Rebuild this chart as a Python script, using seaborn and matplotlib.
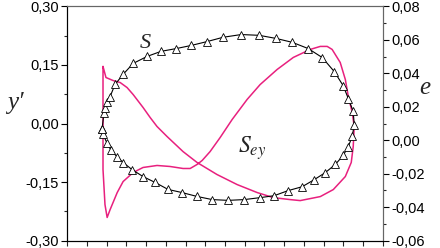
import matplotlib
matplotlib.use("Agg")
import matplotlib.pyplot as plt
import seaborn as sns
import pandas as pd
from matplotlib.ticker import MultipleLocator, FuncFormatter

# S loop (left axis, y')
s_x = [1.76, 1.86, 1.91, 2.02, 2.17, 2.42, 2.83, 3.34, 4.05, 4.76, 5.52, 6.28, 7.09,
       7.90, 8.82, 9.73, 10.59, 11.41, 12.22, 12.93, 13.54, 13.99, 14.25, 14.50, 14.55,
       14.45, 14.25, 13.99, 13.59, 13.08, 12.52, 11.91, 11.20, 10.49, 9.78, 8.97, 8.16,
       7.35, 6.58, 5.82, 5.11, 4.45, 3.84, 3.28, 2.83, 2.52, 2.22, 2.02, 1.81, 1.76]
s_y = [-0.015, 0.028, 0.041, 0.054, 0.069, 0.100, 0.126, 0.154, 0.172, 0.185, 0.192,
       0.200, 0.210, 0.221, 0.228, 0.226, 0.218, 0.208, 0.192, 0.169, 0.133, 0.097,
       0.064, 0.031, -0.003, -0.033, -0.059, -0.082, -0.105, -0.126, -0.144, -0.162,
       -0.172, -0.185, -0.190, -0.195, -0.197, -0.195, -0.187, -0.177, -0.169, -0.151,
       -0.136, -0.118, -0.100, -0.085, -0.069, -0.051, -0.028, -0.015]

# S_ey curve (right axis, e)
sey_x = [1.81, 1.96, 2.32, 2.68, 3.03, 3.34, 3.84, 4.20, 4.55, 5.06, 5.87, 6.58, 7.59,
         8.61, 9.63, 10.44, 11.30, 11.81, 12.83, 13.49, 14.10, 14.40, 14.50, 14.55,
         14.45, 14.25, 14.10, 13.84, 13.43, 13.18, 12.83, 12.32, 11.46, 10.64, 9.78,
         9.12, 8.36, 7.75, 7.24, 6.84, 6.58, 6.23, 5.87, 5.21, 4.55, 3.84, 3.34, 2.83,
         2.53, 2.17, 2.02, 1.91, 1.81, 1.81]
sey_e = [0.0441, 0.0375, 0.0357, 0.0345, 0.0315, 0.0273, 0.0196, 0.0136, 0.0082,
         0.0022, -0.0068, -0.0133, -0.0205, -0.0265, -0.0313, -0.0343, -0.0355,
         -0.0361, -0.0337, -0.0295, -0.0217, -0.0133, -0.0038, 0.0082, 0.0166, 0.0262,
         0.0363, 0.0465, 0.0543, 0.0561, 0.0561, 0.0543, 0.0495, 0.0423, 0.0333,
         0.0244, 0.0124, 0.0016, -0.0068, -0.0121, -0.0145, -0.0169, -0.0169, -0.0157,
         -0.0151, -0.0163, -0.0193, -0.0247, -0.0313, -0.0415, -0.0462, -0.0385,
         -0.0175, 0.0441]

left_ticks = [-0.30, -0.15, 0.00, 0.15, 0.30]
right_ticks = [-0.06, -0.04, -0.02, 0.00, 0.02, 0.04, 0.06, 0.08]

sns.set_style("ticks")
plt.rcParams['font.family'] = ['Liberation Sans', 'DejaVu Sans']
plt.rcParams['mathtext.fontset'] = 'stix'

fig = plt.figure(figsize=(4.4, 2.48), dpi=100)
ax = fig.add_axes([0.153, 0.030, 0.717, 0.944])
ax2 = ax.twinx()

magenta = '#E8207E'
df_s = pd.DataFrame({'x': s_x, 'y': s_y})
df_e = pd.DataFrame({'x': sey_x, 'e': sey_e})

sns.lineplot(data=df_e, x='x', y='e', ax=ax2, sort=False, estimator=None,
             color=magenta, linewidth=1.1)
sns.lineplot(data=df_s, x='x', y='y', ax=ax, sort=False, estimator=None,
             color='black', linewidth=0.8, marker='^', markersize=6,
             markerfacecolor='white', markeredgecolor='black', markeredgewidth=0.6)
ax.set_zorder(ax2.get_zorder() + 1)
ax.patch.set_visible(False)

ax.set_xlim(0, 16)
ax.set_ylim(-0.30, 0.30)
ax2.set_ylim(-0.06, 0.08)
ax.set_xlabel('')
ax.set_ylabel('')
ax2.set_ylabel('')

comma = FuncFormatter(lambda v, p: f"{v:.2f}".replace('.', ',').replace('-0,00', '0,00'))
ax.set_yticks(left_ticks)
ax.yaxis.set_minor_locator(MultipleLocator(0.075))
ax.yaxis.set_major_formatter(comma)
ax2.set_yticks(right_ticks)
ax2.yaxis.set_minor_locator(MultipleLocator(0.01))
ax2.yaxis.set_major_formatter(comma)
ax.xaxis.set_major_locator(MultipleLocator(1))
ax.set_xticklabels([])

ax.tick_params(axis='y', which='major', length=4, width=0.8, labelsize=10.5, pad=2, colors='black')
ax.tick_params(axis='y', which='minor', length=2.5, width=0.8)
ax.tick_params(axis='x', which='major', length=3.5, width=0.8)
ax2.tick_params(axis='y', which='major', length=4, width=0.8, labelsize=10.5, pad=2, colors='black')
ax2.tick_params(axis='y', which='minor', length=2.5, width=0.8)

for a in (ax, ax2):
    for side in ['top', 'right', 'left', 'bottom']:
        a.spines[side].set_visible(True)
    a.spines['left'].set_color('black')
    a.spines['bottom'].set_color('black')
    a.spines['top'].set_color('#666666')
    a.spines['right'].set_color('#666666')
    for sp in a.spines.values():
        sp.set_linewidth(0.8)

serif = ['Liberation Serif', 'DejaVu Serif']
fig.text(0.015, 0.585, "y\u2032", family=serif, style='italic', fontsize=18,
         ha='left', va='center')
fig.text(0.952, 0.645, "e", family=serif, style='italic', fontsize=18,
         ha='left', va='center')
ax.text(3.95, 0.205, "S", family=serif, style='italic', fontsize=16,
        ha='center', va='center')
ax.text(8.65, -0.062, r"$S_{ey}$", fontsize=17, ha='left', va='center')

fig.savefig('out.png', dpi=100)
